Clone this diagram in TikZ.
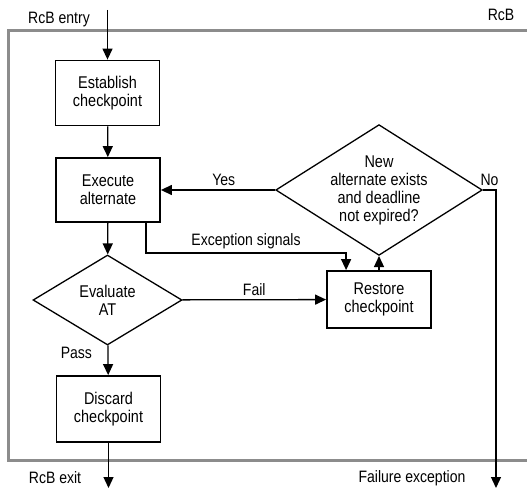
\documentclass[tikz,border=0pt]{standalone}
\usepackage{fontspec}
\setmainfont{Liberation Sans}[FakeStretch=0.85]
\usepackage{tikz}
\usetikzlibrary{arrows.meta,positioning,calc,shapes.geometric}
\definecolor{rcbGray}{HTML}{8C8C8C}

\begin{document}
\begin{tikzpicture}[x=1pt, y=1pt, >={Triangle[length=11pt,width=10pt]},
  font=\fontsize{17}{18}\selectfont,
  stepbox/.style={draw, line width=1.8pt, minimum width=104pt, minimum height=65pt, align=center, inner sep=2pt},
  testbox/.style={draw, diamond, line width=1.3pt, aspect=1.6, align=center, inner sep=0pt},
  flow/.style={->, line width=1.3pt},
  lbl/.style={font=\fontsize{16.5}{18}\selectfont}]
\useasboundingbox (0,0) rectangle (527,488);
% RcB frame, open on the right
\draw[rcbGray, line width=3pt] (527,457) -- (8,457) -- (8,28) -- (527,28);
\node[lbl] (rcb) at (501,473) {RcB};
% boxes
\node[stepbox] (est) at (107.5,395) {Establish\\checkpoint};
\node[stepbox, minimum height=64pt] (exe) at (108,298) {Execute\\alternate};
\node[testbox, minimum width=149pt, minimum height=90pt] (eval) at (107.5,188) {Evaluate\\AT};
\node[stepbox, minimum height=66pt] (disc) at (108.5,79) {Discard\\checkpoint};
\node[stepbox, minimum height=57pt] (rest) at (379,188.5) {Restore\\checkpoint};
\node[testbox, aspect=1.58, minimum width=196pt, minimum height=124pt] (alt) at (379,298)
  {New\\alternate exists\\and deadline\\not expired?};
% entry and exits
\coordinate (in) at (107.5,478);
\coordinate (out) at (108.5,0);
\coordinate (fail) at (496,0);
\node[lbl] (entry) at (59,468) {RcB entry};
\node[lbl] (exit) at (55,10) {RcB exit};
\node[lbl] (failx) at (412,10) {Failure exception};
% connectors
\draw[flow] (in) -- (est);
\draw[flow] (est) -- (exe);
\draw[flow] (exe) -- (eval);
\draw[flow] (eval) -- node[lbl, left=12pt, pos=0.25] {Pass} (disc);
\draw[flow] (disc) -- (out);
\draw[flow] (eval) -- node[lbl, above] {Fail} (rest);
\draw[flow] (alt) -- node[lbl, above, pos=0.45] {Yes} (exe);
\draw[flow] (rest) -- (alt);
\draw[flow] (alt.east) -- node[lbl, above] {No} (alt.east -| fail) -- (fail);
\draw[flow] ($(exe.south east)+(-15,0)$) |- ($(rest.north west)+(20,17)$)
  node[lbl, above, pos=0.75] {Exception signals} -- ($(rest.north west)+(20,0)$);
\end{tikzpicture}
\end{document}
